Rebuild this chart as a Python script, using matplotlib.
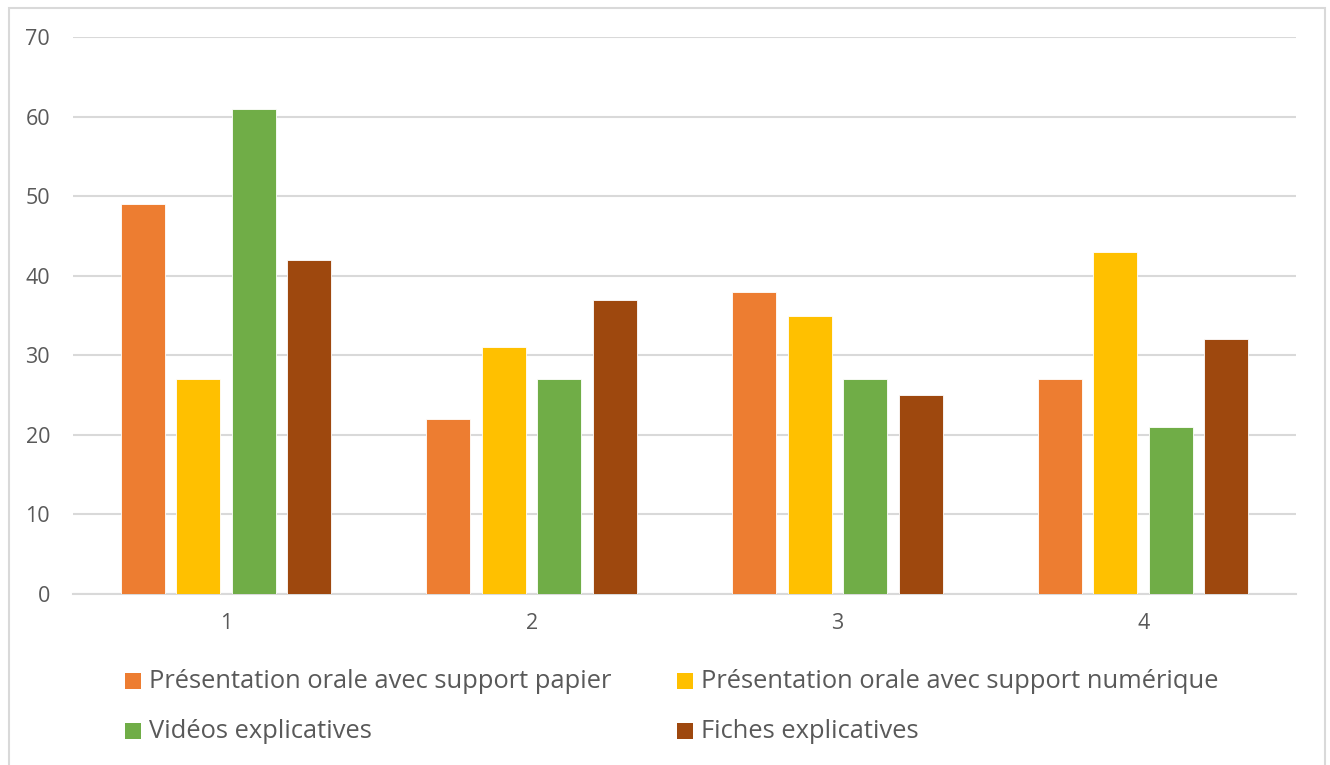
import matplotlib
matplotlib.use("Agg")
import matplotlib.pyplot as plt
from matplotlib.patches import Rectangle
import numpy as np

categories = ["1", "2", "3", "4"]
series_names = [
    "Présentation orale avec support papier",
    "Présentation orale avec support numérique",
    "Vidéos explicatives",
    "Fiches explicatives",
]
papier = [49, 22, 38, 27]
numerique = [27, 31, 35, 43]
videos = [61, 27, 27, 21]
fiches = [42, 37, 25, 32]
colors = ["#ED7D31", "#FFC000", "#70AD47", "#9E480E"]
yticks = [0, 10, 20, 30, 40, 50, 60, 70]

W, H = 1330, 765
fig = plt.figure(figsize=(W / 100, H / 100), dpi=100)
fig.patch.set_facecolor("white")

text_color = "#595959"
grid_color = "#D9D9D9"
font = "Open Sans"

# outer chart frame
fig.add_artist(Rectangle((9 / W, -0.02), (1325 - 9) / W, 1.02 - 8 / H,
                         transform=fig.transFigure, fill=False,
                         edgecolor=grid_color, linewidth=1.5))

ax = fig.add_axes([73 / W, 1 - 594 / H, (1296 - 73) / W, (594 - 37) / H])
x = np.arange(len(categories))
step = 0.1815
width = 0.144
all_series = [papier, numerique, videos, fiches]
for i, (vals, col) in enumerate(zip(all_series, colors)):
    ax.bar(x + (i - 1.5) * step, vals, width=width, color=col,
           edgecolor="white", linewidth=0.6, zorder=3)

ax.set_xlim(-0.5, len(categories) - 0.5)
ax.set_ylim(0, 70)
ax.set_yticks(yticks)
ax.set_yticklabels([str(v) for v in yticks])
ax.set_xticks(x)
ax.set_xticklabels(categories)
for lab in ax.get_xticklabels() + ax.get_yticklabels():
    lab.set_fontfamily(font)
    lab.set_fontsize(15.5)
    lab.set_color(text_color)
ax.tick_params(axis="both", length=0)
ax.tick_params(axis="y", pad=16.5)
ax.tick_params(axis="x", pad=13.5)
ax.grid(axis="y", color=grid_color, linewidth=1.5, zorder=0)
for s in ["top", "right", "left"]:
    ax.spines[s].set_visible(False)
ax.spines["bottom"].set_color(grid_color)
ax.spines["bottom"].set_linewidth(1.5)
ax.set_facecolor("none")

# legend, two columns
legend_pos = [(125, 681), (677, 681), (125, 731), (677, 731)]
for (px, py), name, col in zip(legend_pos, series_names, colors):
    fig.add_artist(Rectangle((px / W, 1 - (py + 8) / H), 16 / W, 16 / H,
                             transform=fig.transFigure, facecolor=col,
                             edgecolor="none"))
    fig.text((px + 24) / W, 1 - (py + 1) / H, name, fontsize=18.4, family=font,
             color=text_color, va="center", ha="left")

fig.savefig("out.png", dpi=100, facecolor="white")
